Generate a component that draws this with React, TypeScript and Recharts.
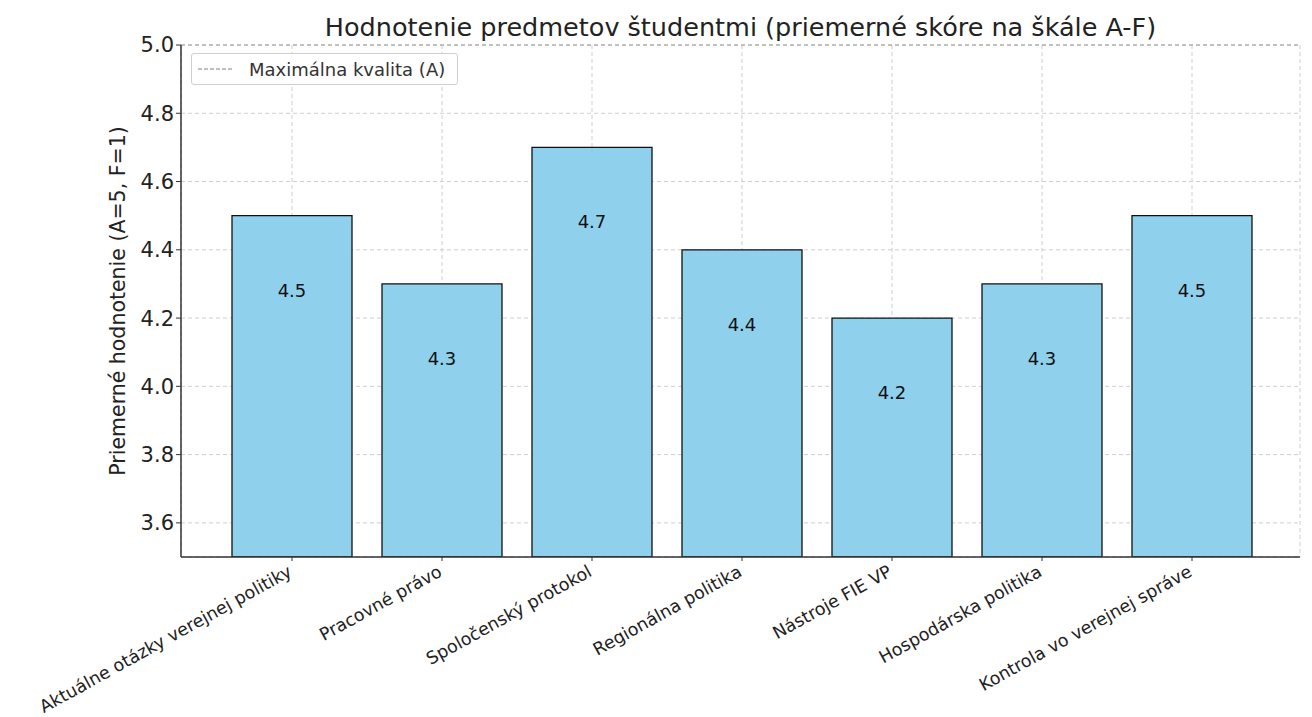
import { BarChart, Bar, XAxis, YAxis, CartesianGrid, ReferenceLine, LabelList } from "recharts";

const subjects = [
  "Aktuálne otázky verejnej politiky",
  "Pracovné právo",
  "Spoločenský protokol",
  "Regionálna politika",
  "Nástroje FIE VP",
  "Hospodárska politika",
  "Kontrola vo verejnej správe",
];
const scores = [4.5, 4.3, 4.7, 4.4, 4.2, 4.3, 4.5];
const yTicks = [3.6, 3.8, 4.0, 4.2, 4.4, 4.6, 4.8, 5.0];
const maxQuality = 5.0;

const data = subjects.map((name, i) => ({ name, score: scores[i] }));

const FONT = "'DejaVu Sans', sans-serif";

function SubjectTick({ x, y, payload }: any) {
  return (
    <g transform={`translate(${x - 4},${y + 3})`}>
      <text
        transform="rotate(-29)"
        textAnchor="end"
        dy="0.6em"
        fontSize={17.5}
        fontFamily={FONT}
        fill="#222"
      >
        {payload.value}
      </text>
    </g>
  );
}

function ValueLabel({ x, y, width, value }: any) {
  return (
    <text
      x={x + width / 2}
      y={y + 76}
      textAnchor="middle"
      dominantBaseline="middle"
      fontSize={18}
      fontFamily={FONT}
      fill="#111"
    >
      {Number(value).toFixed(1)}
    </text>
  );
}

export default function App() {
  return (
    <div style={{ position: "absolute", top: 0, left: 0, width: 1312, height: 717, background: "#fff", fontFamily: FONT }}>
      <div
        style={{
          position: "absolute",
          top: 12,
          left: 0,
          width: 1481,
          textAlign: "center",
          fontSize: 25.5,
          lineHeight: "30px",
          color: "#222",
          pointerEvents: "none",
        }}
      >
        Hodnotenie predmetov študentmi (priemerné skóre na škále A-F)
      </div>
      <div
        style={{
          position: "absolute",
          top: 53,
          left: 191,
          width: 267,
          height: 32,
          border: "1px solid #d0d0d0",
          borderRadius: 3,
          background: "rgba(255,255,255,0.85)",
          display: "flex",
          alignItems: "center",
          fontSize: 18,
          color: "#333",
          zIndex: 2,
          boxSizing: "border-box",
        }}
      >
        <svg width={52} height={10} style={{ marginLeft: 5, flexShrink: 0 }}>
          <line x1={1} y1={5} x2={36} y2={5} stroke="#808080" strokeWidth={1.2} strokeDasharray="4 2" />
        </svg>
        <span style={{ whiteSpace: "nowrap" }}>Maximálna kvalita (A)</span>
      </div>
      <BarChart
        width={1312}
        height={717}
        data={data}
        margin={{ top: 45, right: 12, bottom: 0, left: 0 }}
      >
        <CartesianGrid stroke="#cfcfcf" strokeDasharray="4 3" />
        <XAxis
          dataKey="name"
          height={160}
          padding={{ left: 36, right: 33 }}
          interval={0}
          tick={<SubjectTick />}
          tickSize={4}
          axisLine={{ stroke: "#333", strokeWidth: 1.5 }}
          tickLine={{ stroke: "#333" }}
        />
        <YAxis
          width={181}
          domain={[3.5, 5.0]}
          ticks={yTicks}
          allowDataOverflow
          tickFormatter={(v: number) => v.toFixed(1)}
          tick={{ fontSize: 21, fill: "#222", fontFamily: FONT }}
          tickSize={5}
          axisLine={{ stroke: "#333", strokeWidth: 1.5 }}
          tickLine={{ stroke: "#333" }}
          label={{
            value: "Priemerné hodnotenie (A=5, F=1)",
            angle: -90,
            position: "insideLeft",
            offset: 118,
            style: { textAnchor: "middle", fontSize: 20.5, fill: "#222", fontFamily: FONT },
          }}
        />
        <Bar
          dataKey="score"
          barSize={120}
          fill="#8fd0ec"
          stroke="#111"
          strokeWidth={1.3}
          isAnimationActive={false}
        >
          <LabelList dataKey="score" content={<ValueLabel />} />
        </Bar>
        <ReferenceLine y={maxQuality} stroke="#9a9a9a" strokeDasharray="4 3" strokeWidth={1} />
      </BarChart>
    </div>
  );
}
